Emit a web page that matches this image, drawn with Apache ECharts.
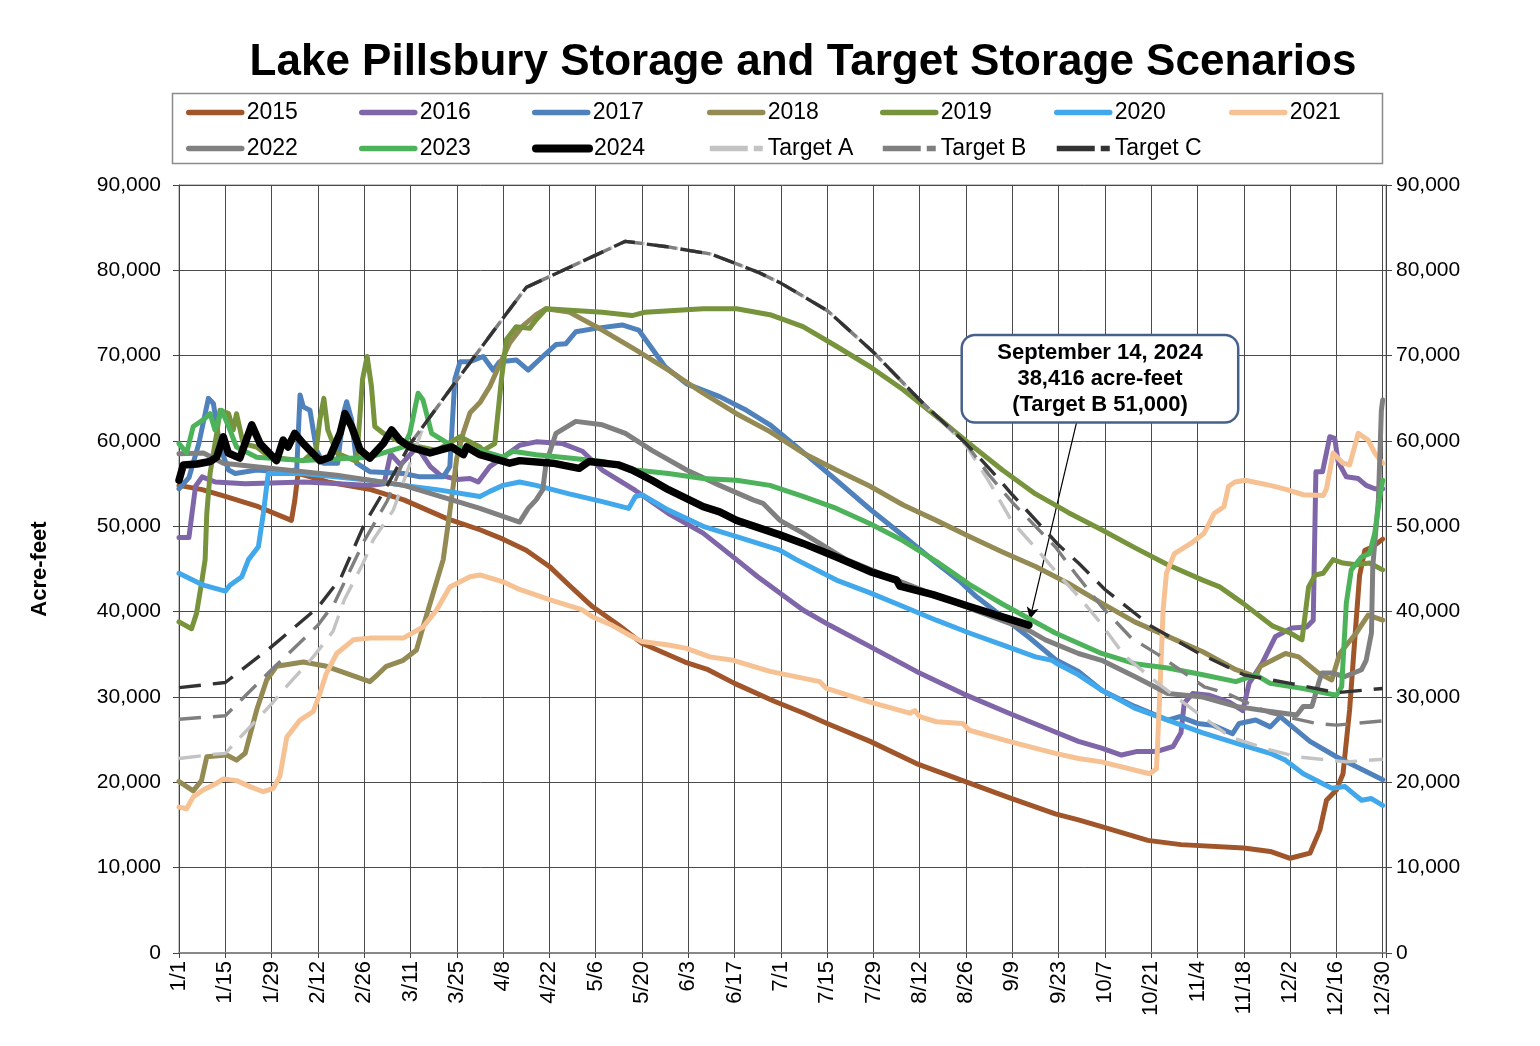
<!DOCTYPE html>
<html><head><meta charset="utf-8">
<script src="https://cdn.jsdelivr.net/npm/echarts@6/dist/echarts.min.js"></script>
<style>html,body{margin:0;padding:0;background:#fff}#c{width:1540px;height:1046px}</style>
</head><body><div id="c"></div>
<script>
// x = day of year (0 = Jan 1, leap-year calendar), y = acre-feet
const tickLabels = ['1/1','1/15','1/29','2/12','2/26','3/11','3/25','4/8','4/22','5/6','5/20','6/3','6/17','7/1','7/15','7/29','8/12','8/26','9/9','9/23','10/7','10/21','11/4','11/18','12/2','12/16','12/30'];
const yTicks = [0,10000,20000,30000,40000,50000,60000,70000,80000,90000];

const s2015 = [[0,54800],[7,54300],[14,53500],[24,52300],[34,50700],[35,53000],[36,56200],[45,55200],[58,54300],[68,53100],[81,50900],[91,49600],[98,48500],[105,47200],[112,45300],[118,43100],[125,40600],[133,38400],[140,36300],[153,34100],[160,33200],[168,31600],[180,29500],[189,28100],[196,26900],[209,24800],[223,22200],[237,20200],[251,18200],[265,16300],[272,15600],[279,14800],[293,13200],[303,12700],[322,12300],[330,11900],[336,11100],[342,11700],[345,14400],[347,17900],[350,19100],[352,21000],[354,28500],[355.6,37000],[357,44200],[358.6,47200],[361,47600],[364,48500]];
const s2016 = [[0,48700],[3,48700],[5,54700],[7,55800],[11,55200],[20,55000],[38,55200],[58,54800],[62,55000],[64,58500],[67,57200],[72,59300],[76,57000],[79,56000],[84,55500],[88,55600],[90.5,55200],[94,57000],[98,58100],[103,59500],[108,59900],[116,59700],[122,58800],[128,56600],[138,54200],[148,51500],[158.5,49200],[168.6,46100],[175,44100],[181.7,42200],[188.7,40200],[196.8,38400],[209,35900],[223,33000],[237,30400],[251,28100],[265,25900],[272,24800],[279,24000],[285,23200],[289.5,23600],[295.5,23600],[300.6,24200],[303,25800],[304,29300],[306.5,30400],[311.6,30200],[317.6,29400],[321.7,28400],[323.6,31600],[327.6,34000],[331.6,37100],[336.6,38100],[341,38200],[343,39000],[343.8,56400],[345.8,56400],[348,60500],[349.5,60300],[350.5,57600],[353,55800],[356.6,55600],[359,54800],[361.6,54400],[364,54400]];
const s2017 = [[0,54400],[3,55700],[6,59700],[8.9,65000],[10.4,64400],[12.4,59300],[15,56600],[17,56200],[23.5,56600],[30.5,56400],[35.6,56600],[36.6,65400],[37.6,64000],[39.6,63600],[41.6,58900],[43.6,57400],[48,57400],[49.7,63200],[50.7,64600],[52.2,62500],[53.7,57400],[57.7,56400],[67.8,56200],[72.9,55800],[79.9,55800],[81.9,57000],[83.4,67200],[85,69300],[88,69300],[92,69900],[95,68300],[97,69300],[102,69500],[105.6,68300],[110,69900],[114,71300],[117,71400],[120,72800],[126,73200],[134,73600],[139,73000],[142,71400],[147,68700],[153.5,66700],[163.5,65200],[171.6,63600],[178.7,61900],[188.7,58700],[198.8,55400],[209,52000],[219,48900],[229,45700],[236,43600],[241,41800],[257,37000],[265,34400],[272,33000],[279,30800],[289,28900],[299,27300],[302.6,27700],[308,26900],[312.6,26700],[318.6,25700],[320.6,26900],[325.6,27300],[330,26500],[333,27700],[342,24800],[350,23000],[364,20300]];
const s2018 = [[0,20100],[4.3,19000],[6.8,20200],[8.4,23000],[14.4,23200],[17.4,22600],[20,23400],[23.5,28500],[26.5,32000],[29.5,33600],[37.6,34100],[44.6,33600],[57.7,31800],[60,32600],[62.7,33600],[67.8,34300],[71.8,35500],[73.8,38200],[76.8,42100],[79.9,46100],[82,52000],[84,58000],[86,61000],[88,63300],[91,64500],[94,66400],[97,69000],[100,71500],[104,73500],[108,74800],[111,75500],[118,75100],[128,73000],[138,70700],[148,68300],[158.5,65600],[168.6,63200],[178.7,61100],[188.7,58600],[198.8,56600],[209,54700],[219,52500],[229,50700],[239,48800],[249,47000],[259,45300],[269,43300],[279,41000],[289,38800],[299,37100],[309.6,35300],[319.6,33200],[325.6,32400],[327,33600],[334.6,35100],[338.6,34700],[344.6,32800],[348.6,32000],[351,35100],[356,37500],[359.6,39600],[364,39000]];
const s2019 = [[0,38800],[3.8,38000],[5.3,39800],[6.8,43300],[7.9,46100],[8.4,51500],[9.4,56200],[11.4,60900],[12.4,63600],[15,63200],[16.4,61300],[17.4,63200],[19.4,59700],[23.5,59300],[27.5,58100],[37.6,57700],[41.5,59000],[42.6,62500],[43.8,65000],[45,61300],[47.7,58600],[53.7,57600],[55.5,67200],[56.9,69900],[58.2,66400],[59.2,61700],[61.8,60900],[67.8,59700],[72.9,59300],[77.9,58900],[85,60500],[91,59300],[92,58900],[95.5,59700],[97.5,67200],[99,71900],[102,73400],[106,73200],[108,74200],[111,75500],[128,75100],[137,74700],[141,75100],[158.5,75500],[168.6,75500],[178.7,74800],[188.7,73400],[198.8,71100],[209,68700],[219,66000],[229,62900],[239,59700],[249,56600],[259,53800],[269,51600],[279,49600],[289,47500],[299,45500],[309.6,43700],[314.7,42900],[321.7,41000],[330.8,38300],[336,37500],[339.6,36700],[341.6,42900],[343.6,44300],[346,44500],[349,46100],[352,45700],[356,45500],[360,45700],[364,44900]];
const s2020 = [[0,44500],[7.4,43100],[14,42400],[15.4,43100],[19,44100],[21,46100],[24,47600],[25.5,51500],[27,56200],[37.6,56200],[57.7,55400],[68,54800],[78,54300],[91,53500],[94,54100],[98,54800],[103,55200],[108,54800],[118,53800],[128,52900],[136,52100],[138,53500],[140,53700],[148,51900],[158.5,50000],[168.6,48800],[181.7,47200],[186.7,46100],[198.8,43700],[209,42200],[219,40600],[229,39000],[239,37500],[249,36100],[259,34700],[264,34300],[266,33800],[272,32600],[279,30800],[289,28700],[299,27300],[309.6,25800],[319.6,24600],[330,23400],[334.6,22600],[340,21000],[348.6,19300],[352.6,19500],[357.6,17900],[360.6,18100],[364,17300]];
const s2021 = [[0,17100],[2.3,16900],[4.3,18300],[7.3,19100],[11.4,19900],[13.4,20400],[17.4,20200],[21.5,19500],[25.5,18900],[28.5,19300],[30.5,20700],[32.6,25300],[36.6,27300],[40.6,28300],[42.6,30400],[44.6,32800],[47.7,35100],[52.7,36700],[57.7,36900],[67.8,36900],[73.8,38200],[77.9,40200],[81.9,42900],[88,44100],[91,44300],[98,43500],[103,42600],[112,41400],[122,40200],[125,39400],[131,38400],[136,37300],[140,36500],[148,36100],[153.5,35700],[160.5,34700],[167.6,34300],[178.7,33000],[193.8,31800],[195.8,31000],[209,29400],[221,28100],[222.5,28400],[224,27700],[229,27100],[237,26900],[239,26100],[251,24800],[265,23400],[272,22800],[279,22400],[293.5,21000],[295.6,21600],[296.6,30400],[297.6,40200],[298.6,44500],[301,46800],[306,48000],[310,49200],[313,51500],[316,52300],[317.4,54700],[319.4,55200],[322.4,55400],[330,54800],[335,54300],[340,53700],[346,53600],[347,54400],[349,58600],[352,57400],[354,57200],[356.6,60900],[359.6,60100],[361.6,58600],[364,57400]];
const s2022 = [[0,58500],[7.4,58600],[13.4,57400],[27.5,56800],[47.7,56000],[68,54800],[91,52100],[103,50500],[105.6,52100],[108,53100],[110,54300],[111,57400],[114,60900],[120,62300],[128,61900],[135,60900],[143,58900],[153.5,56600],[163.5,54800],[173.6,53100],[176.6,52700],[181.7,50700],[188.7,49200],[198.8,46800],[201.8,46100],[217,43700],[239,40400],[250,38800],[257,37800],[262,36700],[272,35100],[279,34300],[289,32400],[299,30400],[309.6,30000],[319.6,28900],[330,28300],[338,27900],[340,28900],[342.6,28900],[344.6,31600],[345.6,32800],[348.6,32800],[352.6,32400],[357.6,33200],[359,34300],[360.6,37500],[361,45300],[362.7,53100],[363.6,63600],[364,64800]];
const s2023 = [[0,59700],[2.3,58600],[4.3,61700],[7.4,62500],[9.4,63200],[10.9,61300],[12.9,63600],[15,61700],[17.4,59300],[23.5,58100],[37.6,57700],[57.7,58100],[67.8,59300],[69.8,60900],[72.3,65600],[73.8,64800],[76.4,60900],[78.9,60300],[83,59300],[91,58900],[98,58100],[101,58800],[108,58400],[118,58000],[128,57600],[138,56600],[148,56200],[158.5,55600],[168.6,55400],[178.7,54800],[188.7,53500],[198.8,52100],[209,50300],[219,48300],[229,45900],[239,43200],[249,40900],[257,39200],[265,37500],[272,36300],[279,35100],[289,33900],[299,33400],[309.6,32600],[319.6,31800],[325.6,32600],[330,31600],[340,31000],[350,30200],[351.6,31200],[353,41000],[354.5,44900],[357.6,46400],[360,46800],[361.6,49200],[363,53100],[364,55400]];
const s2024 = [[0,55400],[1.3,57200],[5.4,57300],[9.4,57600],[11.4,58100],[13.4,60500],[14.9,58600],[18.4,58000],[22,61900],[24.5,59700],[29.5,57700],[31.5,60100],[33,59300],[35,60900],[37.6,59700],[42.6,57700],[45.6,58100],[48.7,60900],[50.2,63200],[52.2,61700],[54.7,59000],[57.7,58000],[61.8,59700],[64.3,61300],[66.8,60100],[69.8,59300],[75.9,58600],[82.4,59300],[86,58400],[87,59300],[91,58400],[100,57400],[103,57700],[113,57400],[121,56800],[124,57600],[133,57200],[137,56600],[143,55400],[148,54300],[158.5,52300],[163.5,51700],[168.6,50700],[181.7,49000],[188.7,48000],[198.8,46400],[209,44700],[217,43700],[218,43000],[228,42000],[239,40600],[248,39500],[257,38416]];
const targetA = [[0,22800],[11,23300],[14,23400],[28.5,29400],[31.5,30800],[40.6,34700],[46.6,37700],[50,41400],[55.7,45700],[58.7,48400],[64.8,51900],[74,61800],[84,67100],[98,74400],[105,78000],[135,83400],[147,82800],[161,81900],[175,79800],[182,78500],[196,75300],[210,70400],[224,64800],[238,59500],[245,55200],[252,50500],[259,47500],[266,44300],[272,41800],[278,39000],[286,34800],[296,31600],[307,28400],[318,25300],[330,23800],[338,23000],[353,22400],[364,22700]];
const targetB = [[0,27400],[14,27800],[28,33200],[42,38400],[47,41000],[56,48300],[63,53000],[70,59700],[84,67100],[98,74400],[105,78000],[135,83400],[147,82800],[161,81900],[175,79800],[182,78500],[196,75300],[210,70400],[224,64800],[238,59700],[245,56000],[252,52800],[259,50000],[265,47600],[271,44500],[279,40600],[288,36900],[296,35000],[310,31200],[317,30400],[330,28100],[344,26900],[350,26700],[364,27200]];
const targetC = [[0,31100],[14,31700],[28,35900],[42,40500],[49,44000],[56,50200],[63,54800],[70,59700],[84,67100],[98,74400],[105,78000],[135,83400],[147,82800],[161,81900],[175,79800],[182,78500],[196,75300],[210,70400],[224,64800],[238,59700],[245,56800],[252,53700],[266,47800],[272,45700],[280,42600],[294,38300],[308,35200],[322,32600],[336,31600],[350,30500],[364,31000]];

const annotation = {date: 'September 14, 2024', value: '38,416 acre-feet', target: '(Target B 51,000)', point: [257, 38416]};

const FONT = "'Liberation Sans', Arial, Helvetica, sans-serif";
const defs = [
  {name:'2015', data:s2015, color:'#A0562A', w:5},
  {name:'2016', data:s2016, color:'#7F66A8', w:5},
  {name:'2017', data:s2017, color:'#4F81BD', w:5},
  {name:'2018', data:s2018, color:'#948A54', w:5},
  {name:'2019', data:s2019, color:'#77933C', w:5},
  {name:'2020', data:s2020, color:'#42A8EC', w:5},
  {name:'2021', data:s2021, color:'#F6C294', w:5},
  {name:'2022', data:s2022, color:'#808080', w:5},
  {name:'2023', data:s2023, color:'#4DB35A', w:5},
  {name:'Target A', data:targetA, color:'#C3C3C3', w:3.4, dash:true},
  {name:'Target B', data:targetB, color:'#7F7F7F', w:3.4, dash:true},
  {name:'Target C', data:targetC, color:'#333333', w:3.4, dash:true},
  {name:'2024', data:s2024, color:'#000000', w:7.5}
];
const legendOrder = ['2015','2016','2017','2018','2019','2020','2021','2022','2023','2024','Target A','Target B','Target C'];
const colX = [186, 359, 532, 707, 880, 1054, 1229];
const rowY = [101, 137];

const series = defs.map((d, i) => {
  const s = {
    name: d.name, type: 'line', data: d.data, symbol: 'none', smooth: false,
    z: 2 + i,
    lineStyle: {color: d.color, width: d.w, type: d.dash ? [22, 12] : 'solid', join: 'round', cap: d.dash ? 'butt' : 'round'},
    itemStyle: {color: d.color},
    emphasis: {disabled: true}, silent: true
  };
  if (d.name === '2024') {
    s.markLine = {
      silent: true, symbol: ['none', 'arrow'], symbolSize: [9, 12],
      lineStyle: {color: '#000', width: 1.2, type: 'solid'},
      label: {show: false},
      data: [[{coord: [271.5, 62300]}, {coord: [annotation.point[0] + 0.3, annotation.point[1] + 700]}]]
    };
    s.markPoint = {
      silent: true, symbol: 'rect', symbolSize: 1, itemStyle: {color: 'rgba(0,0,0,0)'},
      data: [{coord: [278.5, 67300], value: 0,
        label: {show: true, position: 'inside', formatter: annotation.date + '\n' + annotation.value + '\n' + annotation.target,
          color: '#000', fontFamily: FONT, fontWeight: 'bold', fontSize: 22, lineHeight: 26, align: 'center',
          backgroundColor: '#fff', borderColor: '#46608C', borderWidth: 2.5, borderRadius: 12,
          width: 250, padding: [4, 12, 3, 12]}}]
    };
  }
  return s;
});

const legends = legendOrder.map((name, k) => {
  const d = defs.find(x => x.name === name);
  const col = k < 7 ? k : k - 7;
  const row = k < 7 ? 0 : 1;
  return {
    data: [name], left: colX[col], top: rowY[row], padding: 0,
    itemWidth: 53, itemHeight: 20, selectedMode: false,
    itemStyle: {opacity: 0},
    lineStyle: {width: name === '2024' ? 8 : 5.5, cap: d.dash ? 'butt' : 'round', type: d.dash ? [38, 6] : 'solid', color: d.color},
    textStyle: {fontSize: 23, fontFamily: FONT, color: '#000', lineHeight: 20}
  };
});

const yAxisCommon = {
  type: 'value', min: 0, max: 90000, interval: 10000,
  axisLine: {show: true, lineStyle: {color: '#444', width: 1}},
  axisTick: {show: true, length: 6, lineStyle: {color: '#444'}},
  axisLabel: {fontSize: 21, fontFamily: FONT, color: '#000', formatter: v => v.toLocaleString('en-US')}
};

const option = {
  animation: false,
  backgroundColor: '#fff',
  title: {
    text: 'Lake Pillsbury Storage and Target Storage Scenarios',
    left: 798, top: 33, textAlign: 'center',
    textStyle: {fontSize: 44, fontWeight: 'bold', fontFamily: FONT, color: '#000', lineHeight: 50}
  },
  legend: legends,
  graphic: [{type: 'rect', shape: {x: 172.5, y: 93.5, width: 1210, height: 70}, style: {fill: 'none', stroke: '#8a8a8a', lineWidth: 1.5}, silent: true, z: 0}],
  grid: {left: 179, right: 154, top: 185, bottom: 93, show: true, borderColor: '#8a8a8a', borderWidth: 1},
  xAxis: {
    type: 'value', min: 0, max: 365, interval: 14,
    axisLine: {show: true, onZero: false, lineStyle: {color: '#888', width: 2}},
    axisTick: {show: true, length: 5, lineStyle: {color: '#444'}},
    splitLine: {show: true, lineStyle: {color: '#4a4a4a', width: 1}},
    axisLabel: {rotate: 90, margin: 8, fontSize: 22, fontFamily: FONT, color: '#000',
      formatter: v => (v % 14 === 0 && tickLabels[v / 14] !== undefined) ? tickLabels[v / 14] : ''}
  },
  yAxis: [
    Object.assign({}, yAxisCommon, {
      position: 'left', name: 'Acre-feet', nameLocation: 'middle', nameGap: 128, nameRotate: 90,
      nameTextStyle: {fontSize: 22, fontWeight: 'bold', fontFamily: FONT, color: '#000'},
      axisLabel: Object.assign({}, yAxisCommon.axisLabel, {margin: 18}),
      splitLine: {show: true, lineStyle: {color: '#4a4a4a', width: 1}}
    }),
    Object.assign({}, yAxisCommon, {
      position: 'right',
      axisLabel: Object.assign({}, yAxisCommon.axisLabel, {margin: 10}),
      splitLine: {show: false}
    })
  ],
  series: series
};

const chart = echarts.init(document.getElementById('c'), null, {renderer: 'canvas'});
chart.setOption(option);
</script>
</body></html>
